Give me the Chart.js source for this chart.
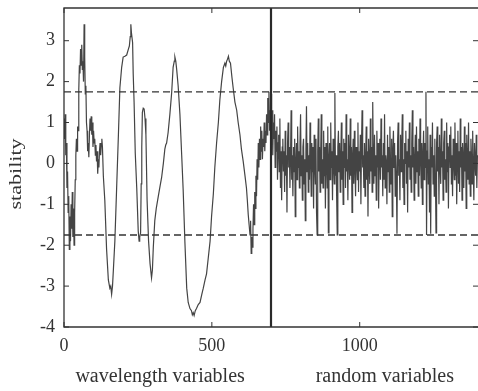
<!DOCTYPE html>
<html>
<head>
<meta charset="utf-8">
<script src="https://cdn.jsdelivr.net/npm/chart.js@4"></script>
<style>
  html, body { margin: 0; padding: 0; background: #fff; overflow: hidden; }
  #wrap { width: 478px; height: 391px; }
</style>
</head>
<body>
<div id="wrap"><canvas id="chart" width="478" height="391"></canvas></div>
<script>
// wavelength variables: sample index and stability value
const wlIndex = [
  0, 2, 4, 6, 8, 10, 12, 14, 16, 18, 20, 22, 24, 26, 28, 30, 32, 34, 36, 38,
  40, 42, 44, 46, 48, 50, 52, 54, 56, 58, 60, 62, 64, 66, 68, 70, 72, 74, 76, 78,
  80, 82, 84, 86, 88, 90, 92, 94, 96, 98, 100, 102, 104, 106, 108, 110, 112, 114, 116, 118,
  120, 122, 124, 126, 128, 130, 133, 138, 144, 150, 155, 158, 161, 164, 167, 172, 178, 184, 189, 195,
  200, 206, 212, 218, 221, 224, 226, 228, 232, 234, 237, 241, 246, 251, 254, 256, 259, 261, 263, 265,
  268, 271, 274, 277, 281, 286, 291, 296, 299, 302, 307, 312, 319, 325, 330, 336, 341, 344, 347, 352,
  358, 364, 369, 373, 375, 378, 381, 386, 392, 398, 403, 409, 415, 420, 426, 431, 434, 437, 440, 444,
  448, 454, 460, 466, 471, 477, 482, 488, 494, 499, 505, 510, 516, 522, 527, 533, 539, 544, 547, 550,
  553, 556, 559, 563, 568, 572, 578, 584, 589, 595, 600, 606, 612, 617, 620, 623, 626, 629, 631, 633,
  635, 637, 639, 641, 643, 645, 647, 649, 651, 653, 655, 657, 659, 661, 663, 665, 667, 669, 671, 673,
  675, 677, 679, 681, 683, 685, 687, 689, 691, 693, 695, 697, 699
];
const wlStability = [
  1.1, 0.6, 1.2, 0.2, 0.5, -0.6, -0.2, -1.2, -0.8, -2.1, -1.3, -1.9, -1.0, -1.6, -0.7, -1.8, -1.1, -2.0, -1.2, -0.4,
  0.2, 0.6, 0.3, 0.9, 0.8, 1.8, 2.4, 2.2, 2.8, 2.4, 2.9, 2.3, 2.5, 2.0, 3.4, 2.6, 1.7, 1.9, 1.0, 0.8,
  0.3, 0.5, 0.15, 0.7, 1.1, 0.8, 1.15, 0.7, 1.0, 0.4, 0.8, 0.5, 0.6, 0.2, 0.45, 0.05, 0.3, -0.25, 0.1, -0.1,
  0.3, 0.5, 0.2, 0.45, 0.6, 0.4, -0.3, -0.9, -2.1, -2.85, -3.05, -3.0, -3.2, -3.0, -2.6, -1.9, -0.6, 0.7, 1.85, 2.35,
  2.6, 2.62, 2.65, 2.8, 2.87, 3.1, 3.4, 3.2, 2.95, 2.2, 1.5, 0.25, -0.6, -1.65, -1.9, -1.8, -1.7, -0.5, 0.4, 1.25,
  1.35, 1.33, 1.1, 0.7, -0.9, -1.9, -2.45, -2.8, -2.6, -2.05, -1.4, -1.1, -0.8, -0.55, -0.35, 0.0, 0.35, 0.45, 0.5, 0.75,
  1.2, 1.72, 2.35, 2.5, 2.6, 2.5, 2.3, 1.9, 1.2, 0.2, -0.65, -1.95, -3.05, -3.4, -3.55, -3.6, -3.7, -3.65, -3.72, -3.6,
  -3.55, -3.45, -3.4, -3.2, -3.05, -2.85, -2.7, -2.3, -1.9, -1.3, -0.75, -0.1, 0.5, 1.0, 1.55, 2.0, 2.35, 2.45, 2.38, 2.5,
  2.55, 2.62, 2.5, 2.45, 2.1, 1.85, 1.5, 1.3, 1.0, 0.7, 0.35, 0.05, -0.3, -0.6, -0.9, -1.25, -1.5, -1.75, -1.4, -2.2,
  -1.8, -2.05, -1.6, -1.0, -1.5, -0.7, -1.1, -0.3, -0.8, 0.1, -0.4, 0.5, -0.1, 0.6, 0.1, 0.9, 0.3, 0.8, 0.1, 0.6,
  0.4, 1.0, 0.3, 0.8, 0.5, 1.2, 0.7, 1.6, 1.0, 1.75, 0.8, 1.3, 0.5
];

// random variables: one value every 2 samples from 700 on
const randomStart = 700;
const randomStep = 2;
const randomStability = [
  1.7, 0.5, 1.3, 0.2, 1.0, 0.6, 1.2, -0.1, 0.8, 0.3, 0.9, -0.4, 0.5, 0.7, -0.2, 1.1, -0.6, 0.3, -0.9, 0.4, 0.6, -0.2, 0.3, -0.7, 0.8,
  -0.3, 0.2, -1.2, 0.5, 1.0, -0.1, 0.4, -0.6, 0.1, 1.3, -0.4, 0.2, -0.8, 0.4, -0.2, 0.6, -1.3, 0.0, 0.5, -0.4, 0.9, -0.1, 0.3, -0.6, 0.5,
  1.2, -0.3, 0.2, -0.9, 0.4, 0.6, -0.5, 0.1, -1.4, 0.3, 1.4, -0.2, 0.5, -0.7, 0.2, -0.4, 1.0, 0.1, -0.8, 0.5, -0.2, 0.4, -1.1, 0.7, 0.0,
  -0.5, 0.6, -1.2, -1.75, 0.3, 1.1, -0.2, 0.4, -0.7, 0.2, 1.2, -0.5, 0.1, -0.6, 0.8, -0.3, 0.4, -1.1, 0.5, 0.2, -0.6, 0.9, -1.7, 0.1, 0.5,
  -0.4, 1.0, -0.1, 0.3, -0.9, 0.6, 0.0, -0.5, 1.72, -0.3, 0.2, -0.8, -1.75, 0.4, 0.8, -0.2, 0.5, -0.7, 0.1, 1.0, -0.4, 0.3, -1.0, 0.6, -0.1,
  0.5, -0.6, 1.2, -0.2, 0.1, -0.9, 0.7, 0.1, -0.4, 1.1, -0.3, 0.4, -1.2, 0.2, 0.6, -0.5, 0.8, -0.1, -0.8, 0.4, 0.1, -0.4, 1.0, -0.7, 0.3,
  -0.2, 0.7, -1.0, 0.4, 1.3, -0.1, 0.2, -0.6, 0.5, -0.8, 0.1, 0.9, -0.4, 0.3, -1.3, 0.6, 0.0, -0.5, 1.1, -0.2, 0.4, -0.7, 1.5, 0.1, -0.5,
  0.7, -0.3, 0.2, -0.9, 0.8, -0.1, 0.5, -1.1, 0.3, 0.6, -0.4, 1.1, -0.1, 0.2, -0.8, 0.5, -0.4, 1.2, -0.6, 0.2, 0.0, -1.0, 0.7, -0.2, 0.4,
  -0.7, 0.9, 0.1, -0.5, 0.6, -1.3, 0.3, 0.8, -0.1, 0.5, -0.8, 0.2, -0.4, -1.72, 0.5, 1.0, -0.3, 0.1, -0.9, 0.7, -0.2, 0.4, 1.2, -0.6, 0.1,
  -1.0, 0.5, 0.0, 0.8, -0.5, 0.3, -1.2, 0.6, -0.1, 1.0, -0.4, 0.2, -0.7, 0.5, 1.3, -0.1, 0.4, -0.9, 0.1, 0.7, -0.5, 0.9, -0.2, 0.3, -0.8,
  0.6, -0.3, 1.1, 0.1, -0.6, 0.5, -1.0, 0.2, 0.8, -0.4, 0.5, -0.1, 1.75, -1.75, 0.3, 0.9, -0.5, 0.1, -1.2, 0.7, -1.72, 0.4, -0.1, 1.0, -0.5,
  0.2, -0.8, 0.6, -0.3, -1.7, 0.5, 0.9, -0.2, 0.4, -1.0, 0.7, 0.0, -0.5, 1.1, -0.1, 0.3, -0.9, 0.5, 0.8, -0.4, 0.1, -0.7, 1.0, -0.2, 0.5,
  -1.1, 0.4, 0.7, -0.1, 0.9, -0.5, 0.2, -0.8, 0.6, 0.1, -0.4, 1.0, -0.3, 0.5, -1.0, 0.1, 0.8, -0.5, 0.3, -0.7, 1.1, -0.1, 0.4, -0.9, 0.5,
  0.1, -0.6, 0.9, -0.2, 0.5, -1.1, 0.7, 0.0, -0.4, 1.0, -0.5, 0.3, -0.8, 0.6, 0.2, -0.5, 0.8, -0.1, -0.9, 0.5, 0.1, -0.3, 0.7, -0.6, 0.2
];

const thresholds = [1.75, -1.75];
const splitAt = 700;
const xRange = [0, 1400];
const yRange = [-4, 3.8];
const xTicks = [0, 500, 1000];
const yTicks = [-4, -3, -2, -1, 0, 1, 2, 3];
const sectionLabels = ['wavelength variables', 'random variables'];
const sectionCenters = [325, 1085];

const SERIF = '"Liberation Serif", "DejaVu Serif", serif';
const INK = '#333';

function buildSeries() {
    let pts = wlIndex.map((x, i) => ({x: x, y: wlStability[i]}))
    randomStability.forEach((v, i) => pts.push({x: randomStart + i * randomStep, y: v}))
    return pts
}

// frame, inward ticks and the axis titles, like the old plot
const framePlugin = {
    id: 'frame',
    afterDraw(chart) {
        const {ctx, chartArea: a, scales} = chart
        ctx.save()
        ctx.strokeStyle = INK
        ctx.lineWidth = 1.3
        ctx.beginPath()
        ctx.moveTo(a.right + 2, a.top)
        ctx.lineTo(a.left, a.top)
        ctx.lineTo(a.left, a.bottom)
        ctx.lineTo(a.right + 2, a.bottom)
        ctx.stroke()

        ctx.lineWidth = 1
        ctx.beginPath()
        scales.y.ticks.forEach((t) => {
            const py = scales.y.getPixelForValue(t.value)
            ctx.moveTo(a.left, py); ctx.lineTo(a.left + 5, py)
            ctx.moveTo(a.right, py); ctx.lineTo(a.right - 5, py)
        })
        scales.x.ticks.forEach((t) => {
            const px = scales.x.getPixelForValue(t.value)
            ctx.moveTo(px, a.bottom); ctx.lineTo(px, a.bottom - 5)
            ctx.moveTo(px, a.top); ctx.lineTo(px, a.top + 5)
        })
        ctx.stroke()

        ctx.fillStyle = INK
        ctx.font = '20px ' + SERIF
        ctx.textAlign = 'center'
        ctx.textBaseline = 'middle'
        sectionLabels.forEach((label, i) => {
            ctx.fillText(label, scales.x.getPixelForValue(sectionCenters[i]), 377)
        })
        ctx.font = '17px ' + SERIF
        ctx.translate(17, 174)
        ctx.rotate(-Math.PI / 2)
        ctx.scale(1.3, 1)
        ctx.fillText('stability', 0, 0)
        ctx.restore()
    }
}

function buildChart() {
    const ctx = document.getElementById('chart')
    const data = {
        datasets: [
            {
                label: 'stability',
                data: buildSeries(),
                borderColor: '#444',
                borderWidth: 1.2,
                pointRadius: 0,
                tension: 0,
                order: 1
            },
            {
                label: 'upper',
                data: xRange.map((x) => ({x: x, y: thresholds[0]})),
                borderColor: INK,
                borderWidth: 1.3,
                borderDash: [7, 4],
                pointRadius: 0,
                order: 0
            },
            {
                label: 'lower',
                data: xRange.map((x) => ({x: x, y: thresholds[1]})),
                borderColor: INK,
                borderWidth: 1.3,
                borderDash: [7, 4],
                pointRadius: 0,
                order: 0
            },
            {
                label: 'split',
                data: yRange.map((y) => ({x: splitAt, y: y})),
                borderColor: '#2a2a2a',
                borderWidth: 2.2,
                pointRadius: 0,
                order: 0
            }
        ]
    }
    const config = {
        type: 'line',
        data: data,
        plugins: [framePlugin],
        options: {
            responsive: false,
            animation: false,
            layout: {padding: {top: 8, right: 0, left: 0, bottom: 0}},
            plugins: {
                legend: {display: false},
                tooltip: {enabled: false}
            },
            scales: {
                x: {
                    type: 'linear',
                    min: xRange[0],
                    max: xRange[1],
                    grid: {display: false},
                    border: {display: false},
                    ticks: {
                        color: INK,
                        font: {family: SERIF, size: 18},
                        padding: 0,
                        maxRotation: 0,
                        autoSkip: false,
                        callback: (value) => String(value)
                    },
                    afterBuildTicks: (scale) => {
                        scale.ticks = xTicks.map((v) => ({value: v}))
                    },
                    afterFit: (scale) => {
                        scale.height = 64
                        scale.paddingLeft = 0
                        scale.paddingRight = 0
                    }
                },
                y: {
                    min: yRange[0],
                    max: yRange[1],
                    grid: {display: false},
                    border: {display: false},
                    ticks: {
                        color: INK,
                        font: {family: SERIF, size: 18},
                        padding: 1,
                        autoSkip: false,
                        callback: (value) => String(value)
                    },
                    afterBuildTicks: (scale) => {
                        scale.ticks = yTicks.map((v) => ({value: v}))
                    },
                    afterFit: (scale) => {
                        scale.width = 64
                        scale.paddingTop = 0
                        scale.paddingBottom = 0
                    }
                }
            }
        }
    }
    return new Chart(ctx, config)
}

buildChart()
</script>
</body>
</html>
